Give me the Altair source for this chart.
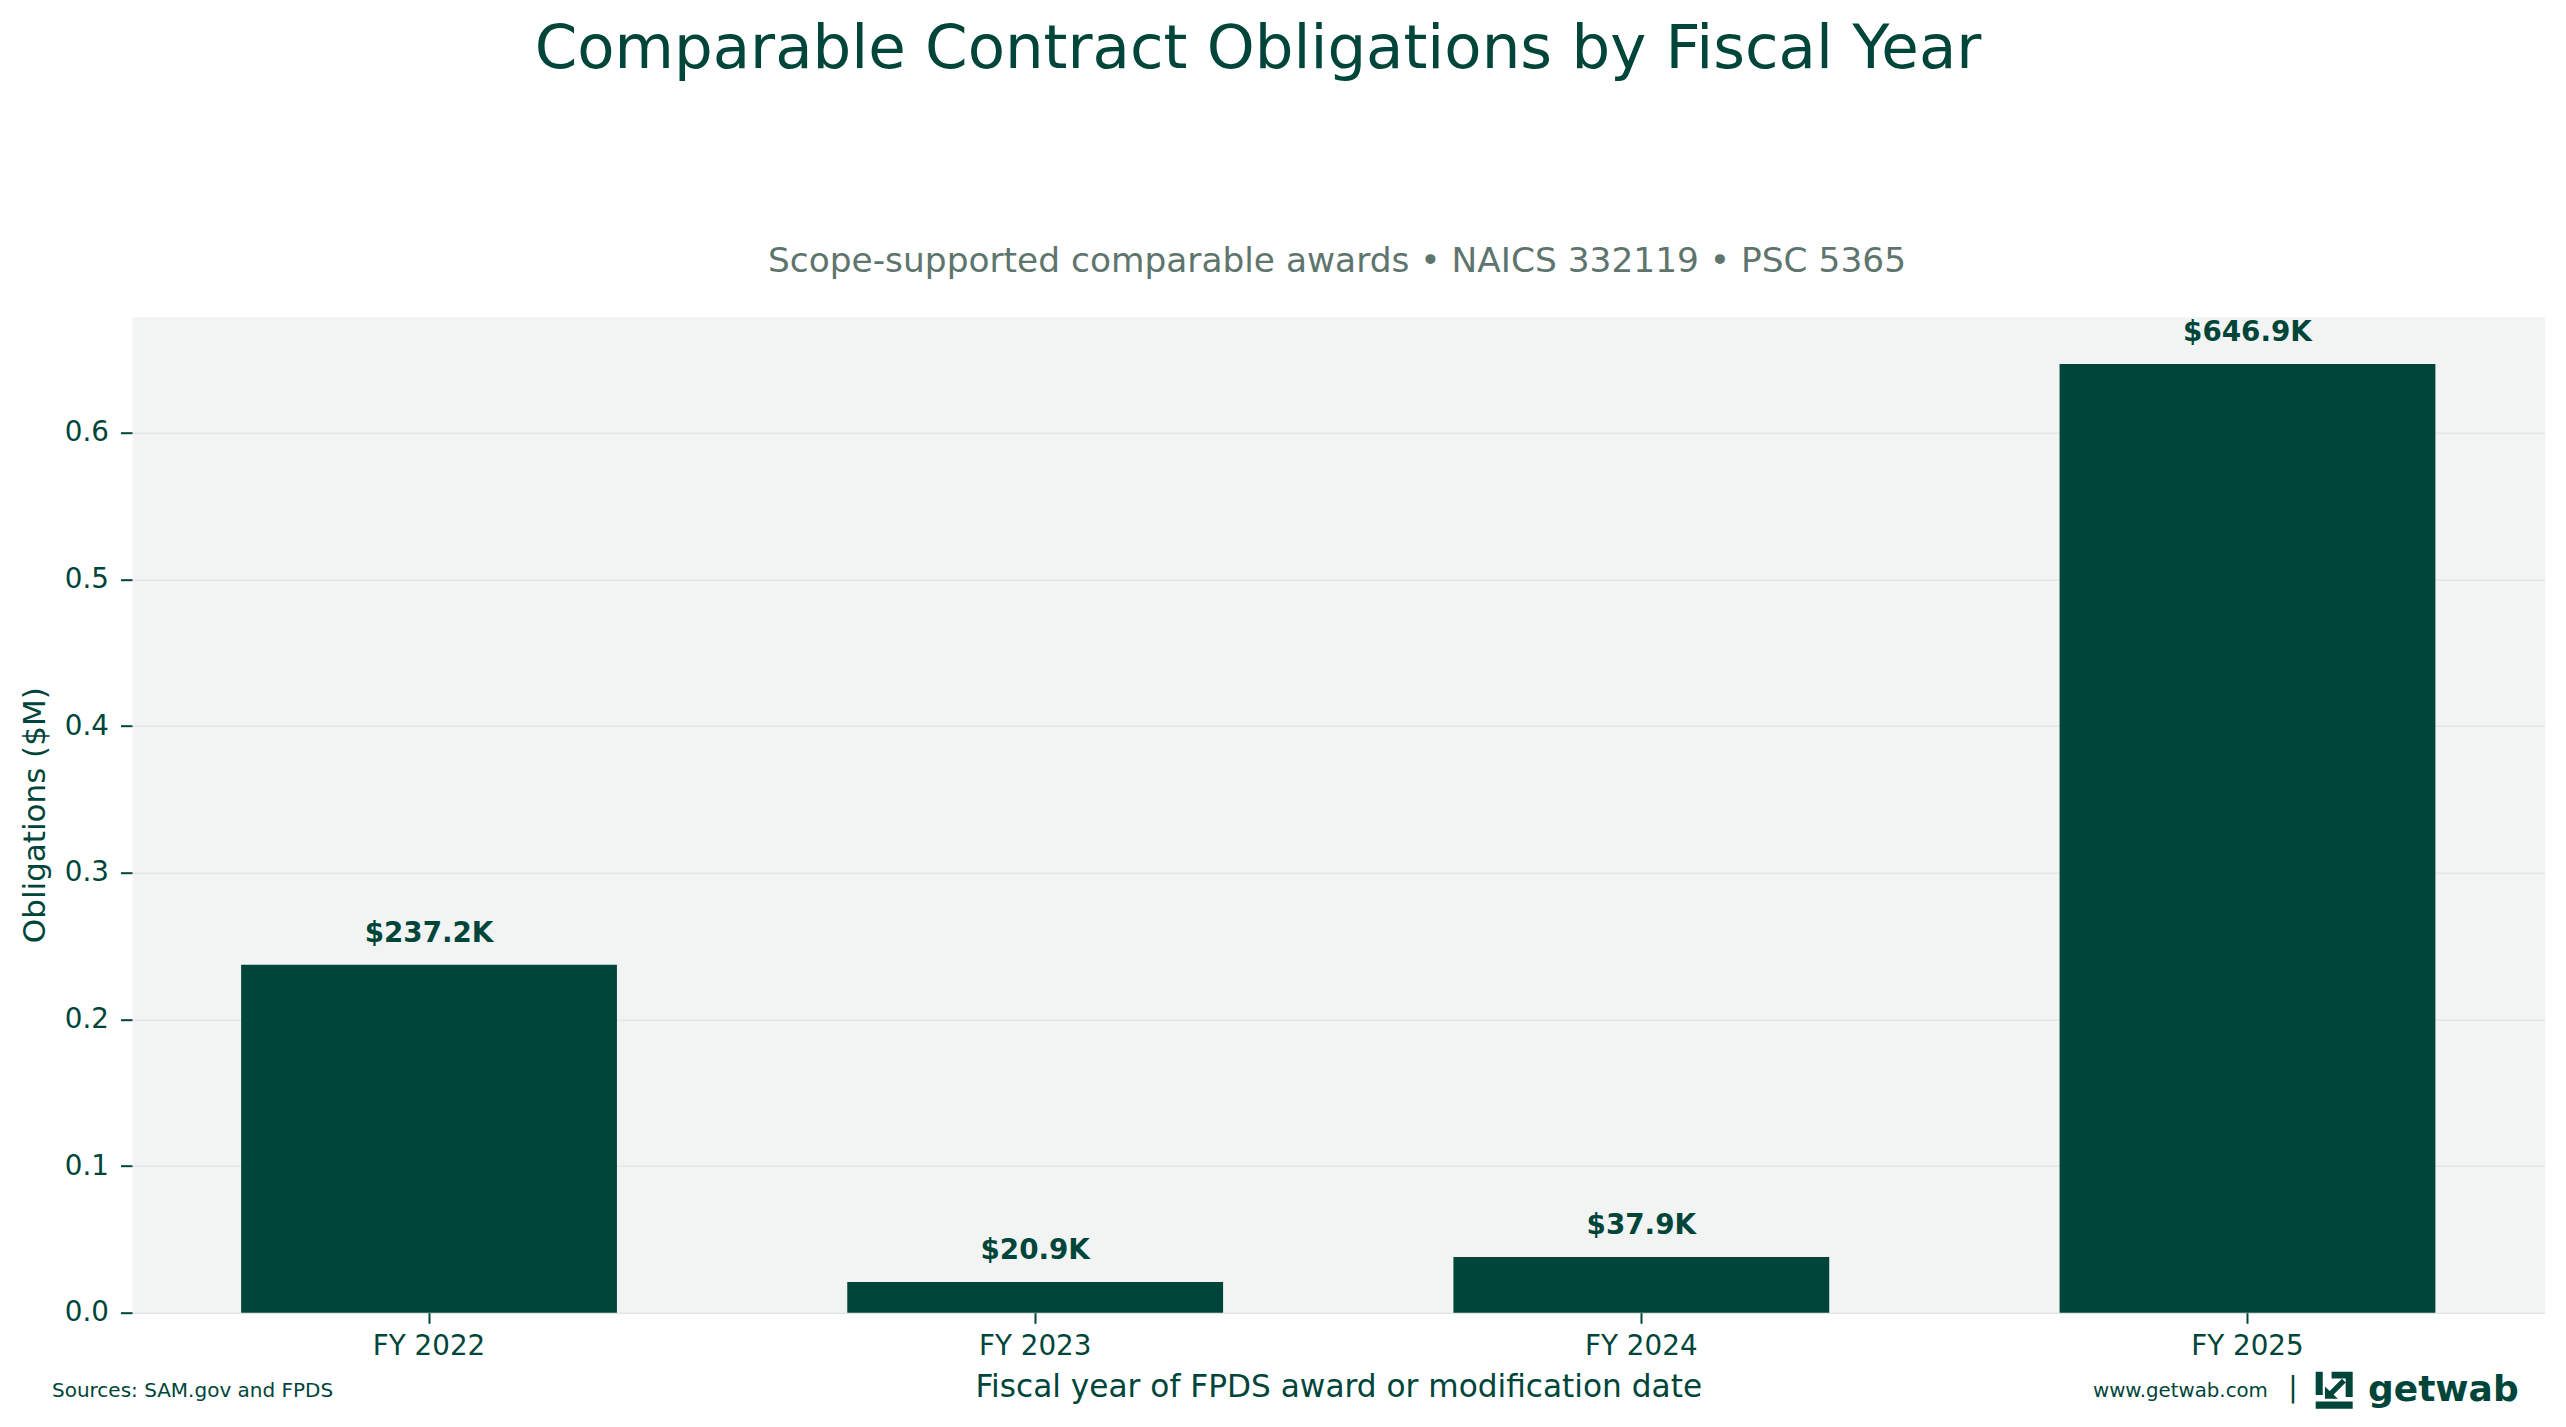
import altair as alt
import pandas as pd

# ---- data ----
years = ["FY 2022", "FY 2023", "FY 2024", "FY 2025"]
obligations_m = [0.2372, 0.0209, 0.0379, 0.6469]
value_labels = ["$237.2K", "$20.9K", "$37.9K", "$646.9K"]
y_ticks = [0.0, 0.1, 0.2, 0.3, 0.4, 0.5, 0.6]

title_text = "Comparable Contract Obligations by Fiscal Year"
subtitle_text = "Scope-supported comparable awards \u2022 NAICS 332119 \u2022 PSC 5365"
x_title = "Fiscal year of FPDS award or modification date"
y_title = "Obligations ($M)"
source_text = "Sources: SAM.gov and FPDS"
site_text = "www.getwab.com"
brand_text = "getwab"

DARK = "#00453a"
GREY = "#5e756e"
FONT = "DejaVu Sans"

W, H = 2412.5, 996

df = pd.DataFrame({"year": years, "value": obligations_m, "label": value_labels})

x_enc = alt.X(
    "year:N",
    sort=years,
    scale=alt.Scale(paddingInner=0.38, paddingOuter=0.18),
    axis=alt.Axis(
        labelAngle=0, tickSize=10.6, labelPadding=9.5, tickWidth=2, tickColor=DARK,
        domain=False, grid=False, labelFontSize=27.8, labelColor=DARK, labelFont=FONT,
        title=x_title, titleFontSize=31.2, titleFontWeight="normal", titleColor=DARK,
        titleFont=FONT, titleX=W / 2, titleY=84.3, titleBaseline="alphabetic",
        titleAlign="center",
    ),
)
y_enc = alt.Y(
    "value:Q",
    scale=alt.Scale(domain=[0, 0.6792], nice=False, zero=True),
    axis=alt.Axis(
        values=y_ticks, format=".1f", tickSize=11.5, labelPadding=12, tickWidth=2,
        tickColor=DARK, domain=False, grid=True, gridColor="#e2e7e5", gridWidth=1.6,
        labelFontSize=27.8, labelColor=DARK, labelFont=FONT,
        title=y_title, titleFontSize=31, titleFontWeight="normal", titleColor=DARK,
        titleFont=FONT, titleX=-88, titleY=H / 2, titleAngle=270,
        titleBaseline="alphabetic", titleAlign="center",
    ),
)

bars = alt.Chart(df).mark_bar(color=DARK).encode(x=x_enc, y=y_enc)

labels = alt.Chart(df).mark_text(
    font=FONT, fontSize=27.8, fontWeight="bold", color=DARK,
    baseline="alphabetic", align="center", dy=-23,
).encode(x=alt.X("year:N", sort=years), y="value:Q", text="label:N")


def note(text, x, y, size, color=DARK, align="left", weight="normal"):
    return alt.Chart(pd.DataFrame({"t": [text]})).mark_text(
        font=FONT, fontSize=size, color=color, align=align,
        baseline="alphabetic", fontWeight=weight,
    ).encode(x=alt.value(x), y=alt.value(y), text="t:N")


title_l = note(title_text, 1126, -248.7, 61, align="center")
sub_l = note(subtitle_text, 1205, -44.2, 34.4, color=GREY, align="center")
src_l = note(source_text, -80, 1080.3, 20)
site_l = note(site_text, 1961, 1080.3, 19.8)
pipe_l = note("|", 2161, 1080.7, 28, align="center")
brand_l = note(brand_text, 2236, 1084.3, 36, weight="bold")

icon_path = (
    "M-1,-1 H-0.62 V0.26 H-1 Z "
    "M-0.14,-1 H1 V-0.64 H-0.14 Z "
    "M0.62,-1 H1 V0.36 H0.62 Z "
    "M-1,0.6 H1 V1 H-1 Z "
    "M-0.5,0.46 V-0.2 L0.2,0.46 Z "
    "M0.42,-0.62 L0.62,-0.42 L-0.2,0.4 L-0.4,0.2 Z"
)
icon_l = alt.Chart(pd.DataFrame({"k": [1]})).mark_point(
    shape=icon_path, size=1369, filled=True, color=DARK, opacity=1, strokeWidth=0,
).encode(x=alt.value(2202.2), y=alt.value(1073.6))

chart = alt.layer(
    bars, labels, title_l, sub_l, src_l, site_l, pipe_l, brand_l, icon_l
).properties(
    width=W,
    height=H,
    padding={"left": 124, "top": 308.7, "right": 10, "bottom": 100},
    autosize=alt.AutoSizeParams(type="none"),
    background="white",
).configure_view(fill="#f2f4f3", stroke="transparent")

chart.save("out.html", embed_options={"renderer": "svg", "actions": False})
